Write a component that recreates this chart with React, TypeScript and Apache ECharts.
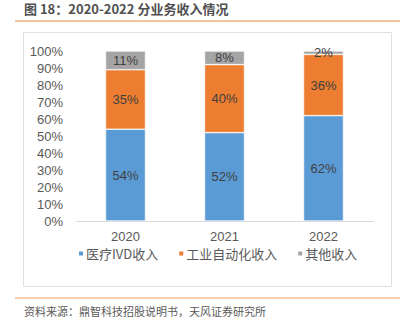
import React, { useEffect, useRef } from "react";
import * as echarts from "echarts";

const categories = ["2020", "2021", "2022"];
const ivd = [54, 52, 62];
const industrial = [35, 40, 36];
const other = [11, 8, 2];
const seriesNames = ["医疗IVD收入", "工业自动化收入", "其他收入"];
const yTicks = [0, 10, 20, 30, 40, 50, 60, 70, 80, 90, 100];

const FONT = "'Liberation Sans', 'Noto Sans CJK SC', sans-serif";

export default function App() {
  const ref = useRef<HTMLDivElement>(null);
  useEffect(() => {
    if (!ref.current) return;
    const chart = echarts.init(ref.current, undefined, { renderer: "svg" });
    const label = {
      show: true,
      position: "inside",
      color: "#404040",
      fontSize: 13,
      fontFamily: FONT,
      formatter: (p: any) => p.value + "%",
    };
    const mk = (name: string, data: number[], color: string) => ({
      name,
      type: "bar",
      stack: "total",
      data,
      barWidth: 40,
      itemStyle: { color, borderColor: "#ffffff", borderWidth: 0.6 },
      label,
    });
    chart.setOption({
      animation: false,
      textStyle: { fontFamily: FONT },
      graphic: [
        {
          type: "text",
          left: 24,
          top: 2,
          style: {
            text: "图 18：2020-2022 分业务收入情况",
            fill: "#505050",
            fontSize: 13,
            fontWeight: "bold",
            fontFamily: "'Noto Sans CJK SC', sans-serif",
          },
        },
        {
          type: "line",
          shape: { x1: 15, y1: 21, x2: 400, y2: 21 },
          style: { stroke: "#E8893D", lineWidth: 1 },
        },
        {
          type: "rect",
          shape: { x: 23.5, y: 32.5, width: 368, height: 254 },
          style: { fill: "none", stroke: "#E0E0E0", lineWidth: 1 },
        },
        {
          type: "line",
          shape: { x1: 15, y1: 298, x2: 400, y2: 298 },
          style: { stroke: "#F6BE92", lineWidth: 1.5 },
        },
        {
          type: "text",
          left: 24,
          top: 305,
          style: {
            text: "资料来源：鼎智科技招股说明书，天风证券研究所",
            fill: "#595959",
            fontSize: 11,
            fontFamily: "'Noto Sans CJK SC', sans-serif",
          },
        },
      ],
      grid: { left: 76, right: 33, top: 51, bottom: 103 },
      legend: {
        data: seriesNames,
        top: 242,
        left: 72,
        icon: "rect",
        itemWidth: 6,
        itemHeight: 6,
        itemGap: 19,
        textStyle: { color: "#595959", fontSize: 13, fontFamily: "'Noto Sans CJK SC', sans-serif", padding: [0, 0, 0, -3] },
      },
      xAxis: {
        type: "category",
        data: categories,
        axisLine: { lineStyle: { color: "#D9D9D9" } },
        axisTick: { show: false },
        axisLabel: { color: "#595959", fontSize: 13, margin: 9 },
      },
      yAxis: {
        type: "value",
        min: yTicks[0],
        max: yTicks[yTicks.length - 1],
        interval: 10,
        splitLine: { show: false },
        axisLine: { show: false },
        axisTick: { show: false },
        axisLabel: { color: "#595959", fontSize: 13, margin: 13, formatter: "{value}%" },
      },
      series: [
        mk(seriesNames[0], ivd, "#5B9BD5"),
        mk(seriesNames[1], industrial, "#ED7D31"),
        mk(seriesNames[2], other, "#A5A5A5"),
      ],
    });
    return () => chart.dispose();
  }, []);
  return (
    <div
      ref={ref}
      style={{ position: "absolute", left: 0, top: 0, width: 406, height: 324, background: "#fff" }}
    />
  );
}
